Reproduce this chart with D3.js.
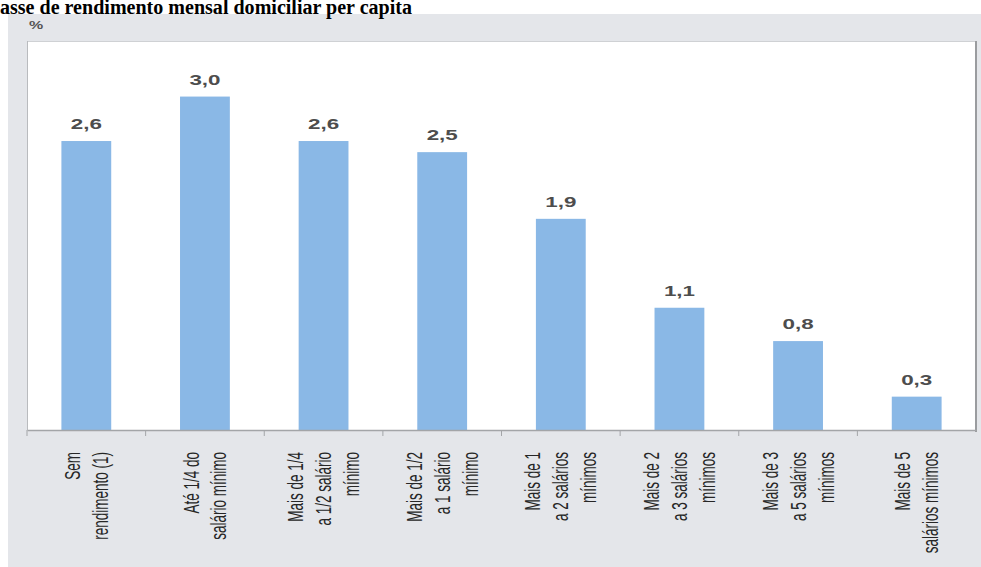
<!DOCTYPE html>
<html>
<head>
<meta charset="utf-8">
<script src="https://cdn.jsdelivr.net/npm/d3@7"></script>
<style>
  body { margin: 0; background: #ffffff; }
  svg { display: block; }
</style>
</head>
<body>
<svg id="chart" width="981" height="567"></svg>
<script>
// Income classes (label lines, drawn rotated) and their percentages
const categories = [
  ["Sem", "rendimento (1)"],
  ["Até 1/4 do", "salário mínimo"],
  ["Mais de 1/4", "a 1/2 salário", "mínimo"],
  ["Mais de 1/2", "a 1 salário", "mínimo"],
  ["Mais de 1", "a 2 salários", "mínimos"],
  ["Mais de 2", "a 3 salários", "mínimos"],
  ["Mais de 3", "a 5 salários", "mínimos"],
  ["Mais de 5", "salários mínimos"]
];
const values = [2.6, 3.0, 2.6, 2.5, 1.9, 1.1, 0.8, 0.3];
const titleText = "asse de rendimento mensal domiciliar per capita";
const unitLabel = "%";

const svg = d3.select("#chart");
const W = 981, H = 567;

const plot = { left: 27, right: 976, top: 41, bottom: 430 };
const stretch = 1.6; // horizontal text stretch used by the chart's typography

const keys = categories.map(c => c.join(" "));
const x = d3.scaleBand()
  .domain(keys)
  .range([plot.left, plot.right])
  .paddingInner(0.58)
  .paddingOuter(0.29);

const y = d3.scaleLinear()
  .domain([0, 3.5])
  .range([plot.bottom, plot.top]);

const fmt = v => d3.format(".1f")(v).replace(".", ",");

// Grey panel behind the chart
svg.append("rect")
  .attr("x", 8).attr("y", 14)
  .attr("width", W - 8).attr("height", H - 14)
  .attr("fill", "#e4e6ea");

// Title (drawn over the panel edge)
svg.append("text")
  .attr("x", 0)
  .attr("y", 14)
  .attr("font-family", "'Liberation Serif', 'Times New Roman', serif")
  .attr("font-weight", "bold")
  .attr("font-size", 20)
  .attr("textLength", 412)
  .attr("lengthAdjust", "spacingAndGlyphs")
  .attr("fill", "#000")
  .text(titleText);

// White plotting area
svg.append("rect")
  .attr("x", plot.left).attr("y", plot.top)
  .attr("width", plot.right - plot.left)
  .attr("height", plot.bottom - plot.top)
  .attr("fill", "#ffffff");

// Plot frame: light top/left edge, darker right edge
svg.append("line")
  .attr("x1", plot.left).attr("x2", plot.right)
  .attr("y1", plot.top + 0.5).attr("y2", plot.top + 0.5)
  .attr("stroke", "#cfd1d4");
svg.append("line")
  .attr("x1", plot.left + 0.5).attr("x2", plot.left + 0.5)
  .attr("y1", plot.top).attr("y2", plot.bottom)
  .attr("stroke", "#b9bbbe");
svg.append("line")
  .attr("x1", plot.right).attr("x2", plot.right)
  .attr("y1", plot.top).attr("y2", plot.bottom + 2)
  .attr("stroke", "#9a9c9f").attr("stroke-width", 2);

// Unit label
svg.append("text")
  .attr("transform", `translate(36,29) scale(${stretch},1)`)
  .attr("text-anchor", "middle")
  .attr("font-family", "'Liberation Sans', Arial, sans-serif")
  .attr("font-weight", "bold")
  .attr("font-size", 10)
  .attr("fill", "#555")
  .text(unitLabel);

// Bars
svg.append("g")
  .selectAll("rect")
  .data(values)
  .join("rect")
  .attr("x", (d, i) => x(keys[i]))
  .attr("y", d => y(d))
  .attr("width", x.bandwidth())
  .attr("height", d => y(0) - y(d))
  .attr("fill", "#8ab8e6");

// Value labels
svg.append("g")
  .selectAll("text")
  .data(values)
  .join("text")
  .attr("transform", (d, i) =>
    `translate(${x(keys[i]) + x.bandwidth() / 2},${y(d) - 12}) scale(${stretch},1)`)
  .attr("text-anchor", "middle")
  .attr("font-family", "'Liberation Sans', Arial, sans-serif")
  .attr("font-weight", "bold")
  .attr("font-size", 14)
  .attr("fill", "#4d4d4d")
  .text(d => fmt(d));

// X axis: baseline from d3.axisBottom, ticks at the category boundaries
const axisG = svg.append("g")
  .attr("transform", `translate(0,${plot.bottom})`)
  .call(d3.axisBottom(x).tickSize(0).tickFormat(""));
axisG.select(".domain").attr("stroke", "#a3a5a8").attr("stroke-width", 1.5);

const gap = x.step() - x.bandwidth();
const boundaries = keys.map(k => x(k) - gap / 2);
svg.append("g")
  .selectAll("line")
  .data(boundaries)
  .join("line")
  .attr("x1", d => d).attr("x2", d => d)
  .attr("y1", plot.bottom).attr("y2", plot.bottom + 6)
  .attr("stroke", "#a3a5a8");

// Rotated category labels
const lineH = 17.5;
const labelG = svg.append("g")
  .selectAll("g")
  .data(categories)
  .join("g")
  .attr("transform", (d, i) =>
    `translate(${x(keys[i]) + x.bandwidth() / 2},452) scale(${stretch},1) rotate(-90)`);

labelG.selectAll("text")
  .data(d => d.map((t, j) => ({ t, j, n: d.length })))
  .join("text")
  .attr("x", 0)
  .attr("y", d => (d.j - (d.n - 1) / 2) * lineH)
  .attr("dy", "0.35em")
  .attr("text-anchor", "end")
  .attr("font-family", "'Liberation Sans', Arial, sans-serif")
  .attr("font-size", 13.5)
  .attr("fill", "#262626")
  .text(d => d.t);
</script>
</body>
</html>
